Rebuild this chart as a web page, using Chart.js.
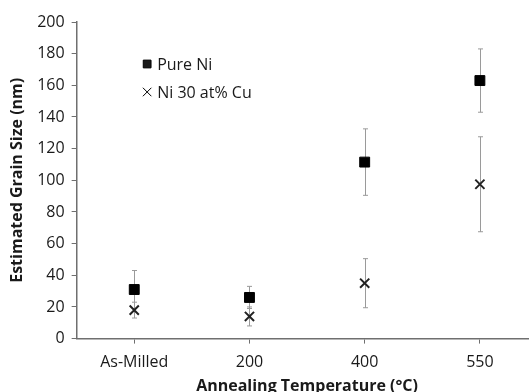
<!DOCTYPE html>
<html>
<head>
<meta charset="utf-8">
<script src="https://cdn.jsdelivr.net/npm/chart.js@4.4.1/dist/chart.umd.min.js"></script>
<style>
  html, body { margin: 0; padding: 0; background: #fff; }
  #wrap { width: 529px; height: 392px; overflow: hidden; }
</style>
</head>
<body>
<div id="wrap"><canvas id="grainChart" width="546" height="392"></canvas></div>
<script>
// annealing conditions and estimated grain sizes (nm)
const temperatures = ["As-Milled", "200", "400", "550"];
const pureNi = [31, 26, 111.5, 163];
const pureNiErr = [12, 7, 21, 20];
const niCu = [18, 14, 35, 97.5];
const niCuErr = [5, 6, 15.5, 30];
const yTicks = [0, 20, 40, 60, 80, 100, 120, 140, 160, 180, 200];

const axisColor = "#6f6f6f";
const textColor = "#1a1a1a";
const fontFamily = "'Open Sans', sans-serif";

// grey error bars with short caps, drawn under the markers
const errorBars = {
  id: "errorBars",
  beforeDatasetsDraw(chart) {
    const ctx = chart.ctx;
    const x = chart.scales.x, y = chart.scales.y;
    ctx.save();
    ctx.strokeStyle = "#9a9a9a";
    ctx.lineWidth = 1;
    chart.data.datasets.forEach((ds) => {
      ds.data.forEach((v, i) => {
        const px = Math.round(x.getPixelForValue(i)) + 0.5;
        const top = y.getPixelForValue(v + ds.errors[i]);
        const bot = y.getPixelForValue(v - ds.errors[i]);
        ctx.beginPath();
        ctx.moveTo(px, top);
        ctx.lineTo(px, bot);
        ctx.moveTo(px - 2.5, top);
        ctx.lineTo(px + 2.5, top);
        ctx.moveTo(px - 2.5, bot);
        ctx.lineTo(px + 2.5, bot);
        ctx.stroke();
      });
    });
    ctx.restore();
  }
};

// legend placed inside the plot area
const insideLegend = {
  id: "insideLegend",
  afterDraw(chart) {
    const ctx = chart.ctx;
    const area = chart.chartArea;
    ctx.save();
    ctx.font = "16px " + fontFamily;
    ctx.fillStyle = textColor;
    ctx.textBaseline = "middle";
    chart.data.datasets.forEach((ds, i) => {
      const cx = area.left + 70.5;
      const cy = area.top + 42 + i * 28;
      Chart.helpers.drawPoint(ctx, {
        pointStyle: ds.pointStyle,
        radius: ds.legendRadius,
        borderWidth: ds.borderWidth
      }, cx, cy);
      ctx.fillStyle = textColor;
      ctx.fillText(ds.label, cx + 10, cy + 1);
    });
    ctx.restore();
  }
};

new Chart(document.getElementById("grainChart"), {
  type: "line",
  data: {
    labels: temperatures,
    datasets: [
      {
        label: "Pure Ni",
        data: pureNi,
        errors: pureNiErr,
        showLine: false,
        pointStyle: "rect",
        pointRadius: 7,
        legendRadius: 5.5,
        backgroundColor: "#000",
        borderColor: "#000",
        borderWidth: 1
      },
      {
        label: "Ni 30 at% Cu",
        data: niCu,
        errors: niCuErr,
        showLine: false,
        pointStyle: "crossRot",
        pointRadius: 6.5,
        legendRadius: 6,
        backgroundColor: "#222",
        borderColor: "#222",
        borderWidth: 2
      }
    ]
  },
  options: {
    responsive: false,
    animation: false,
    layout: { padding: { left: 8, top: 22, right: 0, bottom: -4 } },
    plugins: {
      legend: { display: false },
      tooltip: { enabled: false }
    },
    scales: {
      x: {
        offset: true,
        afterFit(scale) {
          // tighten the gap between tick labels and axis title
          scale.height -= 8;
        },
        grid: {
          offset: false,
          drawOnChartArea: false,
          drawTicks: true,
          tickLength: 5,
          color: axisColor
        },
        border: { color: axisColor, width: 1.5 },
        ticks: {
          color: textColor,
          font: { family: fontFamily, size: 16 },
          padding: 9
        },
        title: {
          display: true,
          text: "Annealing Temperature (°C)",
          color: textColor,
          font: { family: fontFamily, size: 16, weight: "bold" },
          padding: { top: 4, bottom: 0 }
        }
      },
      y: {
        min: 0,
        max: 200,
        afterBuildTicks(scale) {
          scale.ticks = yTicks.map((v) => ({ value: v }));
        },
        grid: {
          drawOnChartArea: false,
          drawTicks: true,
          tickLength: 5,
          color: axisColor
        },
        border: { color: axisColor, width: 1.5 },
        ticks: {
          color: textColor,
          font: { family: fontFamily, size: 16 },
          padding: 7
        },
        title: {
          display: true,
          text: "Estimated Grain Size (nm)",
          color: textColor,
          font: { family: fontFamily, size: 16, weight: "bold" },
          padding: { top: 0, bottom: 3 }
        }
      }
    }
  },
  plugins: [errorBars, insideLegend]
});
</script>
</body>
</html>
